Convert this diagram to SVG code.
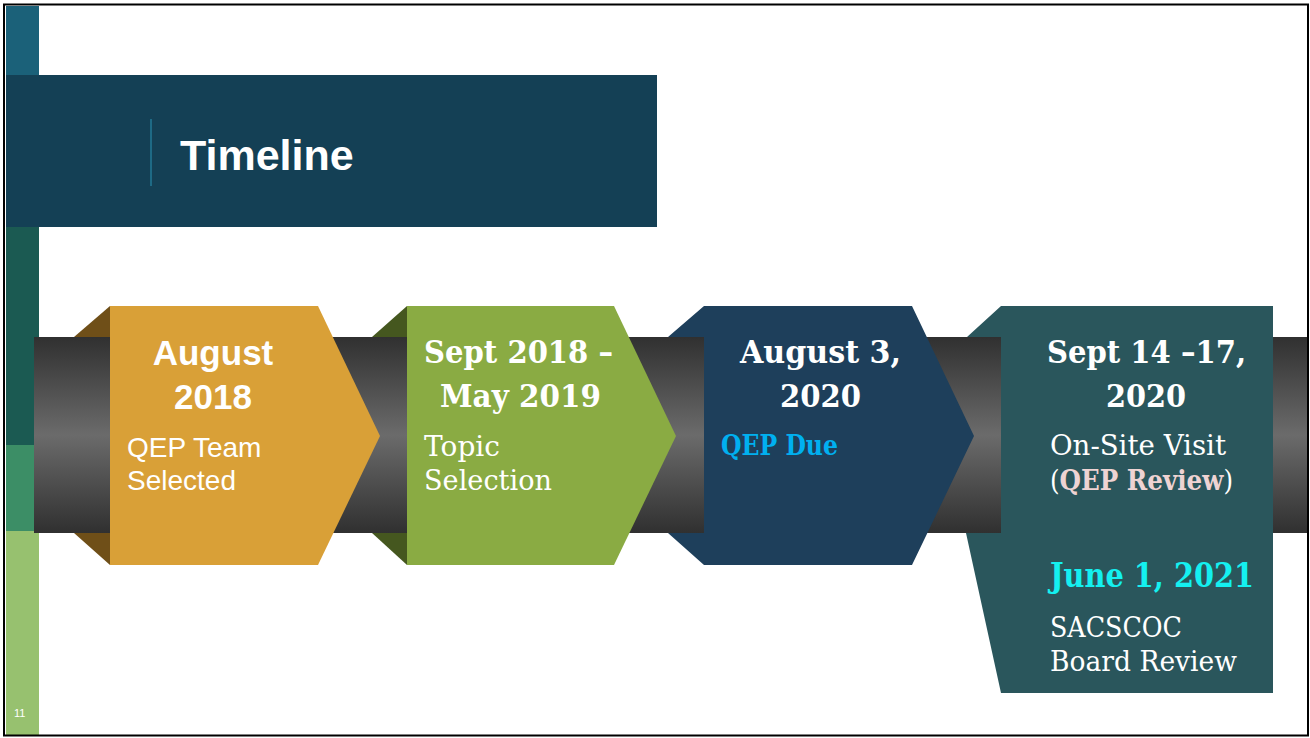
<svg xmlns="http://www.w3.org/2000/svg" width="1310" height="738" viewBox="0 0 1310 738">
  <style>
    .sans { font-family: "Liberation Sans", Arial, sans-serif; fill: #ffffff; }
    .slab { font-family: "DejaVu Serif", "Liberation Serif", serif; fill: #ffffff; }
    .head { font-size: 32px; font-weight: bold; }
    .body { font-size: 27px; }
  </style>
  <defs>
    <linearGradient id="pipeShade" x1="0" y1="0" x2="0" y2="1">
      <stop offset="0" stop-color="#303030"/>
      <stop offset="0.5" stop-color="#6b6b6b"/>
      <stop offset="1" stop-color="#303030"/>
    </linearGradient>
  </defs>

  <!-- slide background -->
  <rect x="0" y="0" width="1310" height="738" fill="#ffffff"/>

  <!-- left accent bar -->
  <g id="accent-bar">
    <rect x="6" y="6" width="33" height="70" fill="#1b6179"/>
    <rect x="6" y="226" width="33" height="220" fill="#1b5a52"/>
    <rect x="6" y="445" width="33" height="87" fill="#3c8e66"/>
    <rect x="6" y="531" width="33" height="205" fill="#97c16f"/>
  </g>

  <!-- title band -->
  <g id="title">
    <rect x="6" y="75" width="651" height="152" fill="#144055"/>
    <line x1="151" y1="119" x2="151" y2="186" stroke="#1e6a85" stroke-width="2"/>
    <text x="180" y="170" class="sans" font-size="43" font-weight="bold">Timeline</text>
  </g>

  <!-- timeline pipe -->
  <g id="connectors">
    <rect x="34" y="337" width="1273" height="196" fill="url(#pipeShade)"/>
  </g>

  <!-- milestone 1 -->
  <g id="node-aug-2018">
    <polygon points="74,337 110,306 110,337" fill="#6f4f18"/>
    <polygon points="74,533 110,533 110,565" fill="#6f4f18"/>
    <polygon points="110,306 318,306 380,436 318,565 110,565" fill="#d9a037"/>
    <text x="213" y="365" class="sans" font-size="35" font-weight="bold" text-anchor="middle">August</text>
    <text x="213" y="409" class="sans" font-size="35" font-weight="bold" text-anchor="middle">2018</text>
    <text x="127" y="457" class="sans" font-size="28">QEP Team</text>
    <text x="127" y="490" class="sans" font-size="28">Selected</text>
  </g>

  <!-- milestone 2 -->
  <g id="node-topic">
    <polygon points="372,337 407,306 407,337" fill="#45571f"/>
    <polygon points="372,533 407,533 407,565" fill="#45571f"/>
    <polygon points="407,306 614,306 676,436 614,565 407,565" fill="#8aab43"/>
    <text x="424" y="363" class="slab head" textLength="189" lengthAdjust="spacingAndGlyphs">Sept 2018 –</text>
    <text x="440" y="407" class="slab head" textLength="161" lengthAdjust="spacingAndGlyphs">May 2019</text>
    <text x="424" y="456" class="slab body" textLength="76" lengthAdjust="spacingAndGlyphs">Topic</text>
    <text x="424" y="490" class="slab body" textLength="128" lengthAdjust="spacingAndGlyphs">Selection</text>
  </g>

  <!-- milestone 3 -->
  <g id="node-qep-due">
    <polygon points="704,337 668,337 704,306 912,306 974,436 912,565 704,565 668,533 704,533" fill="#1e3f5b"/>
    <text x="740" y="363" class="slab head" textLength="161" lengthAdjust="spacingAndGlyphs">August 3,</text>
    <text x="780" y="407" class="slab head" textLength="81" lengthAdjust="spacingAndGlyphs">2020</text>
    <text x="721" y="455" class="slab" font-size="27" font-weight="bold" style="fill:#00b0f0" textLength="117" lengthAdjust="spacingAndGlyphs">QEP Due</text>
  </g>

  <!-- milestone 4 -->
  <g id="node-site-visit">
    <polygon points="1001,337 967,337 1001,306 1273,306 1273,693 1001,693 966,533 1001,533" fill="#2a565c"/>
    <text x="1047" y="363" class="slab head" textLength="199" lengthAdjust="spacingAndGlyphs">Sept 14 –17,</text>
    <text x="1106" y="407" class="slab head" textLength="80" lengthAdjust="spacingAndGlyphs">2020</text>
    <text x="1050" y="455" class="slab body" textLength="176" lengthAdjust="spacingAndGlyphs">On-Site Visit</text>
    <text x="1050" y="490" class="slab body" textLength="183" lengthAdjust="spacingAndGlyphs">(<tspan font-weight="bold" style="fill:#eed3d3">QEP Review</tspan>)</text>
    <text x="1050" y="587" class="slab" font-size="34" font-weight="bold" style="fill:#14f0f0" textLength="204" lengthAdjust="spacingAndGlyphs">June 1, 2021</text>
    <text x="1050" y="637" class="slab body" textLength="132" lengthAdjust="spacingAndGlyphs">SACSCOC</text>
    <text x="1050" y="671" class="slab body" textLength="187" lengthAdjust="spacingAndGlyphs">Board Review</text>
  </g>

  <!-- slide number -->
  <text x="14" y="717" class="sans" font-size="11">11</text>

  <!-- slide frame -->
  <rect x="4" y="4.5" width="1304" height="731" fill="none" stroke="#000000" stroke-width="2"/>
</svg>
